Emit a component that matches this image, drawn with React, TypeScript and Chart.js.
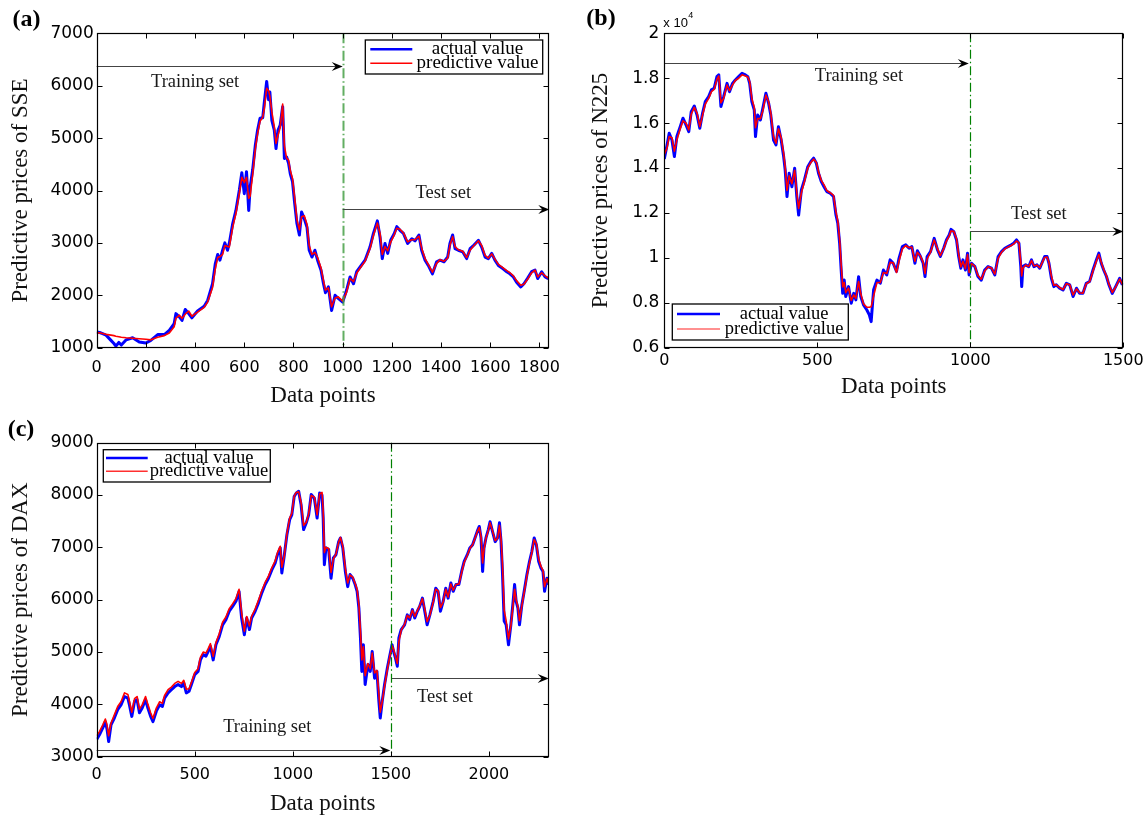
import React, { useEffect, useRef } from "react";
import { Chart, registerables } from "chart.js";

Chart.register(...registerables);

const SERIF = '"Liberation Serif", "Times New Roman", serif';
const SANS = '"DejaVu Sans", "Liberation Sans", sans-serif';

// ---------- (a) SSE ----------
const sseIndex = [0,12,24,38,58,70,78,90,100,120,146,173,200,220,248,275,295,315,322,336,347,360,374,387,410,437,451,471,482,492,501,512,521,532,539,553,566,580,590,600,609,618,624,634,645,654,664,675,681,691,699,704,712,722,729,737,746,756,763,772,780,787,796,805,814,824,833,844,855,864,875,887,898,912,922,930,942,955,969,982,1000,1016,1030,1044,1057,1071,1091,1111,1125,1141,1152,1161,1172,1183,1195,1209,1220,1233,1247,1264,1281,1294,1310,1321,1335,1348,1365,1382,1396,1412,1427,1436,1447,1457,1470,1488,1504,1518,1534,1552,1565,1579,1592,1606,1619,1633,1651,1667,1680,1694,1707,1724,1737,1751,1768,1782,1793,1809,1823,1836];
const sseActual = [1300,1290,1270,1240,1140,1080,1030,1100,1050,1150,1190,1110,1090,1140,1250,1250,1330,1460,1650,1590,1520,1730,1650,1570,1700,1790,1900,2220,2600,2780,2670,2860,3000,2860,2990,3370,3620,4010,4340,3940,4360,3620,4070,4390,4870,5150,5380,5390,5660,6080,5730,5880,5340,5150,4800,5150,5250,5600,4610,4640,4520,4320,4170,3750,3370,3150,3590,3460,3300,2860,2730,2860,2670,2480,2220,2050,2160,1710,2000,1940,1870,2100,2350,2220,2450,2540,2670,2920,3180,3420,3110,2700,2990,2800,3050,3170,3310,3240,3180,2990,3080,3040,3150,2860,2670,2570,2410,2640,2670,2640,2730,2990,3150,2890,2860,2830,2700,2890,2960,3050,2920,2730,2700,2800,2670,2570,2510,2450,2410,2350,2250,2160,2220,2320,2450,2480,2320,2450,2350,2320];
const ssePredicted = [1280,1285,1270,1255,1240,1230,1220,1210,1200,1190,1180,1170,1160,1150,1200,1230,1280,1400,1560,1620,1560,1640,1700,1600,1680,1770,1870,2150,2500,2720,2740,2780,2950,2930,2920,3300,3560,3950,4250,4150,4250,3850,3900,4300,4800,5080,5320,5400,5550,5950,5900,5800,5500,5220,4900,5050,5200,5650,4850,4620,4580,4380,4230,3850,3450,3250,3500,3520,3350,2950,2780,2820,2720,2520,2280,2100,2140,1780,1950,1970,1890,2060,2320,2260,2420,2520,2650,2890,3140,3380,3180,2780,2930,2850,3010,3150,3280,3260,3190,3020,3060,3060,3130,2900,2700,2590,2440,2610,2680,2650,2710,2950,3120,2930,2870,2840,2720,2860,2950,3040,2950,2760,2710,2790,2690,2590,2530,2470,2430,2370,2280,2190,2210,2300,2430,2480,2350,2430,2370,2330];
const sseXTicks = [0, 200, 400, 600, 800, 1000, 1200, 1400, 1600, 1800];
const sseYTicks = [1000, 2000, 3000, 4000, 5000, 6000, 7000];

// ---------- (b) N225 ----------
const n225Index = [0,9,16,25,33,41,52,61,71,80,88,98,107,116,125,134,145,154,163,172,178,185,194,205,213,223,232,243,254,265,273,279,286,294,298,305,314,322,332,341,348,357,365,373,382,390,395,401,408,417,426,433,439,448,458,469,479,488,497,504,513,522,531,542,553,561,567,573,578,583,588,593,602,611,619,626,635,642,651,662,670,676,684,695,706,716,727,738,748,759,767,778,789,800,809,819,827,837,846,852,859,870,882,893,902,913,922,931,937,946,955,962,969,976,984,991,996,1004,1015,1025,1036,1047,1058,1069,1080,1091,1102,1113,1123,1134,1142,1151,1159,1165,1168,1172,1181,1191,1200,1208,1218,1227,1236,1243,1251,1257,1265,1273,1281,1292,1303,1314,1325,1336,1347,1357,1368,1379,1390,1401,1412,1420,1428,1436,1445,1453,1464,1475,1488,1497];
const n225Actual = [14400,15030,15550,15250,14510,15400,15840,16220,15920,15620,16510,16760,16360,15770,16440,16960,17180,17480,17550,18070,18150,16740,17180,17770,17400,17770,17920,18070,18220,18150,18070,17770,16960,16590,15400,16360,16140,16660,17330,16880,16360,15250,15030,15840,15250,14510,13920,12730,13770,13170,13990,12730,11910,13030,13470,14060,14290,14440,14210,13770,13400,13170,12950,12880,12730,11910,11540,10650,9460,8420,9010,8280,8720,7980,8420,8130,9160,8280,7910,7680,7460,7160,8580,9010,8870,9460,9240,9910,9760,9400,9980,10500,10580,10430,10500,9760,10320,10060,9760,9170,10060,10280,10870,10350,10060,10430,10800,11020,11270,11170,10800,10060,9540,9910,9460,10210,9240,9760,9610,9170,9010,9460,9610,9540,9240,10060,10280,10430,10500,10580,10650,10800,10650,9610,8720,9610,9690,9610,9910,9610,9690,9540,9840,10060,10060,9760,9090,8720,8800,8650,8570,8870,8800,8280,8650,8420,8420,8870,8950,9460,9910,10210,9760,9460,9170,8800,8420,8720,9090,8800];
const n225Predicted = [14600,14900,15400,15350,14750,15250,15750,16100,16000,15700,16400,16700,16450,15850,16350,16850,17100,17400,17500,17950,18100,16900,17100,17700,17450,17700,17900,18000,18150,18100,18050,17850,17100,16700,15800,16200,16200,16550,17250,16950,16450,15400,15100,15750,15350,14650,14050,13000,13650,13300,13900,12900,12200,12900,13400,14000,14250,14400,14250,13850,13450,13250,13000,12900,12780,12050,11650,10800,9700,8700,8900,8450,8650,8100,8350,8200,8950,8400,7950,7800,7800,7820,8300,8900,8900,9350,9300,9800,9780,9350,9850,10400,10550,10450,10480,9850,10250,10080,9800,9300,9950,10250,10800,10400,10100,10400,10750,10980,11200,11180,10850,10150,9600,9850,9520,10150,9350,9750,9620,9220,9050,9420,9600,9550,9280,9980,10250,10400,10480,10550,10620,10750,10680,9800,9200,9550,9680,9620,9880,9640,9680,9560,9820,10020,10040,9800,9180,8780,8800,8680,8590,8850,8800,8350,8620,8450,8430,8850,8940,9420,9850,10150,9800,9480,9200,8830,8460,8700,9060,8820];
const n225XTicks = [0, 500, 1000, 1500];
const n225YTicks = [6000, 8000, 10000, 12000, 14000, 16000, 18000, 20000];

// ---------- (c) DAX ----------
const daxIndex = [0,14,31,44,53,61,73,90,107,124,142,159,167,179,193,206,218,232,249,261,275,287,304,321,335,346,364,381,398,415,432,444,457,471,483,500,517,529,543,557,568,580,594,608,625,642,659,676,693,710,726,739,753,765,779,790,808,825,842,859,876,893,910,922,936,944,956,970,984,995,1007,1018,1030,1042,1055,1069,1081,1094,1110,1124,1137,1149,1155,1161,1169,1183,1195,1207,1220,1234,1243,1255,1268,1280,1292,1306,1318,1328,1337,1345,1352,1360,1369,1383,1395,1405,1417,1429,1439,1446,1456,1468,1482,1494,1506,1514,1524,1533,1541,1553,1570,1584,1596,1610,1622,1635,1647,1661,1673,1685,1699,1716,1729,1741,1753,1767,1780,1792,1806,1818,1832,1847,1861,1874,1890,1903,1917,1929,1941,1951,1960,1968,1975,1985,1997,2006,2018,2032,2044,2054,2062,2069,2078,2088,2100,2112,2122,2131,2139,2148,2156,2168,2180,2194,2207,2219,2231,2242,2254,2266,2276,2284,2296,2305];
const daxActual = [3330,3420,3550,3670,3520,3290,3610,3740,3900,3990,4150,4120,3990,3770,4060,4090,3840,3930,4090,3930,3770,3670,3870,3990,3960,4120,4220,4280,4340,4380,4340,4410,4220,4250,4380,4570,4630,4850,4950,4920,5010,5110,4850,5140,5300,5520,5620,5780,5870,5970,6160,5650,5330,5650,5430,5650,5780,5940,6130,6290,6410,6570,6700,6860,6990,6510,6830,7240,7530,7620,7970,8040,8070,7820,7340,7470,7620,8010,7940,7560,8040,8000,7560,6670,6990,6960,6410,6800,6860,7110,7180,6990,6540,6250,6480,6410,6290,6160,5840,5270,4630,5140,4380,4760,4630,5010,4500,4630,4060,3740,4060,4380,4690,4920,5140,5010,4880,4730,5270,5430,5520,5710,5620,5810,5650,5780,5870,6030,5780,5520,5710,5970,6220,6160,5780,5970,6220,6030,6320,6160,6290,6290,6540,6730,6860,6990,7050,7180,7310,7400,7180,6540,6990,7180,7340,7490,7310,7110,7180,7470,7110,6540,5590,5520,5140,5520,5900,6290,5970,5840,5520,5900,6160,6480,6730,6920,7180,7050,6730,6600,6540,6160,6410,6290];
const daxPredicted = [3400,3480,3610,3720,3600,3400,3640,3800,3960,4050,4220,4190,4060,3850,4110,4150,3910,3990,4150,4000,3840,3730,3930,4050,4020,4170,4280,4330,4400,4440,4400,4460,4290,4300,4420,4610,4680,4900,5000,4980,5060,5160,4920,5180,5350,5570,5670,5830,5920,6020,6200,5750,5400,5680,5500,5680,5820,5990,6170,6330,6450,6610,6740,6900,7020,6620,6820,7260,7560,7650,7980,8050,8060,7870,7420,7480,7640,7990,7960,7620,8020,8050,7700,6900,7000,6980,6520,6780,6870,7100,7190,7020,6600,6320,6470,6430,6310,6200,5900,5400,4850,5100,4550,4780,4680,4980,4600,4650,4200,3850,4050,4350,4660,4900,5120,5050,4900,4780,5200,5420,5530,5700,5650,5800,5680,5790,5880,6020,5820,5580,5700,5950,6200,6170,5850,5960,6200,6050,6300,6180,6290,6300,6520,6710,6850,6980,7050,7170,7300,7380,7200,6700,6950,7170,7320,7470,7320,7130,7170,7420,7150,6700,5800,5600,5250,5500,5850,6200,6000,5870,5600,5880,6140,6450,6700,6900,7150,7070,6780,6630,6560,6250,6400,6300];
const daxXTicks = [0, 500, 1000, 1500, 2000];
const daxYTicks = [3000, 4000, 5000, 6000, 7000, 8000, 9000];

const legendLabels = ["actual value", "predictive value"];

type Arrow = { from: number; to: number; y: number };
type Note = { x: number; y: number; text: string };

interface PanelCfg {
  key: string;
  left: number; top: number; width: number; height: number;
  padding: { top: number; right: number; bottom: number; left: number };
  yAxisWidth: number; xAxisHeight: number;
  xMin: number; xMax: number; xTicks: number[];
  yMin: number; yMax: number; yTicks: number[];
  yFormat: (v: number) => string;
  xs: number[]; actual: number[]; predicted: number[];
  yTitle: string; yTitlePad: number; xTitlePad: number; xTickPad: number; yTickPad: number;
  label: string; labelX: number; labelY: number;
  split: number; splitColor: string; splitWidth: number; splitDash: number[];
  arrows: Arrow[]; notes: Note[]; noteFont: number;
  legend: { x: number; y: number; w: number; h: number; r1: number; r2: number; l1: number; l2: number; font: number; redColor: string };
  exponent: boolean;
}

const fmtPlain = (v: number) => String(v);
const fmtE4 = (v: number) => String(Math.round(v / 1000) / 10);

const panels: PanelCfg[] = [
  {
    key: "a", left: 0, top: 0, width: 574, height: 412,
    padding: { top: 33.3, right: 24.7, bottom: 0, left: 0 },
    yAxisWidth: 96.7, xAxisHeight: 64.3,
    xMin: 0, xMax: 1840, xTicks: sseXTicks, yMin: 1000, yMax: 7000, yTicks: sseYTicks, yFormat: fmtPlain,
    xs: sseIndex, actual: sseActual, predicted: ssePredicted,
    yTitle: "Predictive prices of SSE", yTitlePad: 7.5, xTitlePad: 2.7, xTickPad: 11, yTickPad: 3,
    label: "(a)", labelX: 26.5, labelY: 20,
    split: 1000, splitColor: "rgba(70,160,70,0.85)", splitWidth: 2, splitDash: [10, 3, 1.5, 3],
    arrows: [{ from: 0, to: 1000, y: 6380 }, { from: 1000, to: 1840, y: 3643 }],
    notes: [{ x: 400, y: 6075, text: "Training set" }, { x: 1409, y: 3943, text: "Test set" }],
    noteFont: 18.5,
    legend: { x: 268.6, y: 6.7, w: 177.4, h: 34, r1: 9.3, r2: 23.3, l1: 5, l2: 47, font: 19, redColor: "#ff0000" },
    exponent: false,
  },
  {
    key: "b", left: 574, top: 0, width: 574, height: 412,
    padding: { top: 33.3, right: 24.7, bottom: 0, left: 0 },
    yAxisWidth: 90.3, xAxisHeight: 64.3,
    xMin: 0, xMax: 1500, xTicks: n225XTicks, yMin: 6000, yMax: 20000, yTicks: n225YTicks, yFormat: fmtE4,
    xs: n225Index, actual: n225Actual, predicted: n225Predicted,
    yTitle: "Predictive prices of N225", yTitlePad: 12.7, xTitlePad: 10.8, xTickPad: 4, yTickPad: 5,
    label: "(b)", labelX: 27, labelY: 19,
    split: 1000, splitColor: "#008000", splitWidth: 1.2, splitDash: [9, 3, 1.5, 3],
    arrows: [{ from: 0, to: 995, y: 18664 }, { from: 1000, to: 1500, y: 11196 }],
    notes: [{ x: 636, y: 18100, text: "Training set" }, { x: 1224, y: 11940, text: "Test set" }],
    noteFont: 18.5,
    legend: { x: 8, y: 270.7, w: 176, h: 36, r1: 10, r2: 25, l1: 4.7, l2: 47.7, font: 18.5, redColor: "#ff6b6b" },
    exponent: true,
  },
  {
    key: "c", left: 0, top: 410, width: 574, height: 408,
    padding: { top: 32.7, right: 25.3, bottom: 0, left: 0 },
    yAxisWidth: 96.7, xAxisHeight: 61.3,
    xMin: 0, xMax: 2305, xTicks: daxXTicks, yMin: 3000, yMax: 9000, yTicks: daxYTicks, yFormat: fmtPlain,
    xs: daxIndex, actual: daxActual, predicted: daxPredicted,
    yTitle: "Predictive prices of DAX", yTitlePad: 7.2, xTitlePad: 0.1, xTickPad: 8.5, yTickPad: 3,
    label: "(c)", labelX: 21, labelY: 20,
    split: 1500, splitColor: "#008000", splitWidth: 1.2, splitDash: [9, 3, 1.5, 3],
    arrows: [{ from: 0, to: 1497, y: 3133 }, { from: 1505, to: 2305, y: 4503 }],
    notes: [{ x: 870, y: 3561, text: "Training set" }, { x: 1776, y: 4135, text: "Test set" }],
    noteFont: 18.5,
    legend: { x: 6.6, y: 7, w: 167, h: 32.3, r1: 8.3, r2: 21.6, l1: 2.7, l2: 44.4, font: 18.5, redColor: "#ff3030" },
    exponent: false,
  },
];

function makeOverlay(cfg: PanelCfg) {
  return {
    id: "overlay_" + cfg.key,
    afterDraw(chart: any) {
      const { ctx, chartArea: ca, scales } = chart;
      const sx = scales.x;
      const sy = scales.y;
      ctx.save();

      // train/test split line
      const xSplit = Math.round(sx.getPixelForValue(cfg.split)) + 0.5;
      ctx.strokeStyle = cfg.splitColor;
      ctx.lineWidth = cfg.splitWidth;
      ctx.setLineDash(cfg.splitDash);
      ctx.beginPath();
      ctx.moveTo(xSplit, ca.top);
      ctx.lineTo(xSplit, ca.bottom);
      ctx.stroke();
      ctx.setLineDash([]);

      // arrows
      for (const a of cfg.arrows) {
        const x1 = sx.getPixelForValue(a.from);
        const x2 = Math.min(sx.getPixelForValue(a.to), ca.right);
        const y = Math.round(sy.getPixelForValue(a.y)) + 0.5;
        ctx.strokeStyle = "#444";
        ctx.lineWidth = 1.1;
        ctx.beginPath();
        ctx.moveTo(x1, y);
        ctx.lineTo(x2 - 6, y);
        ctx.stroke();
        ctx.fillStyle = "#000";
        ctx.beginPath();
        ctx.moveTo(x2, y);
        ctx.lineTo(x2 - 11, y - 4.5);
        ctx.lineTo(x2 - 7, y);
        ctx.lineTo(x2 - 11, y + 4.5);
        ctx.closePath();
        ctx.fill();
      }

      // notes
      ctx.font = `${cfg.noteFont}px ${SERIF}`;
      ctx.fillStyle = "#1a1a1a";
      ctx.textAlign = "center";
      ctx.textBaseline = "middle";
      for (const n of cfg.notes) {
        ctx.fillText(n.text, sx.getPixelForValue(n.x), sy.getPixelForValue(n.y));
      }

      // frame and inward ticks
      const L = Math.round(ca.left) + 0.5;
      const R = Math.round(ca.right) - 0.5;
      const T = Math.round(ca.top) + 0.5;
      const B = Math.round(ca.bottom) - 0.5;
      ctx.strokeStyle = "#000";
      ctx.lineWidth = 1.2;
      ctx.strokeRect(L, T, R - L, B - T);
      ctx.lineWidth = 1;
      ctx.beginPath();
      for (const t of sx.ticks) {
        const px = Math.round(sx.getPixelForValue(t.value)) + 0.5;
        ctx.moveTo(px, B); ctx.lineTo(px, B - 5);
        ctx.moveTo(px, T); ctx.lineTo(px, T + 5);
      }
      for (const t of sy.ticks) {
        const py = Math.round(sy.getPixelForValue(t.value)) + 0.5;
        ctx.moveTo(L, py); ctx.lineTo(L + 5, py);
        ctx.moveTo(R, py); ctx.lineTo(R - 5, py);
      }
      ctx.stroke();

      // legend
      const lg = cfg.legend;
      const bx = ca.left + lg.x;
      const by = ca.top + lg.y;
      ctx.fillStyle = "#fff";
      ctx.fillRect(bx, by, lg.w, lg.h);
      ctx.strokeStyle = "#000";
      ctx.lineWidth = 1.3;
      ctx.strokeRect(bx, by, lg.w, lg.h);
      ctx.lineWidth = 2.4;
      ctx.strokeStyle = "#0000ff";
      ctx.beginPath();
      ctx.moveTo(bx + lg.l1, by + lg.r1);
      ctx.lineTo(bx + lg.l2, by + lg.r1);
      ctx.stroke();
      ctx.lineWidth = 1.6;
      ctx.strokeStyle = lg.redColor;
      ctx.beginPath();
      ctx.moveTo(bx + lg.l1, by + lg.r2);
      ctx.lineTo(bx + lg.l2, by + lg.r2);
      ctx.stroke();
      ctx.font = `${lg.font}px ${SERIF}`;
      ctx.fillStyle = "#000";
      ctx.textAlign = "center";
      ctx.textBaseline = "middle";
      const tcx = bx + lg.l2 + (lg.w - lg.l2) / 2;
      ctx.fillText(legendLabels[0], tcx, by + lg.r1);
      ctx.fillText(legendLabels[1], tcx, by + lg.r2);

      // panel label
      ctx.font = `bold 24px ${SERIF}`;
      ctx.fillStyle = "#000";
      ctx.fillText(cfg.label, cfg.labelX, cfg.labelY);

      // exponent
      if (cfg.exponent) {
        ctx.textAlign = "left";
        ctx.font = `13px "Liberation Sans", sans-serif`;
        ctx.fillText("x 10", ca.left - 1, 23);
        const w = ctx.measureText("x 10").width;
        ctx.font = `9px "Liberation Sans", sans-serif`;
        ctx.fillText("4", ca.left - 1 + w + 0.5, 16);
      }

      ctx.restore();
    },
  };
}

function Panel({ cfg }: { cfg: PanelCfg }) {
  const ref = useRef<HTMLCanvasElement>(null);
  useEffect(() => {
    if (!ref.current) return;
    const pts = (ys: number[]) => cfg.xs.map((x, i) => ({ x, y: ys[i] }));
    const chart = new Chart(ref.current, {
      type: "line",
      data: {
        datasets: [
          {
            label: legendLabels[0],
            data: pts(cfg.actual),
            borderColor: "#0000ff",
            borderWidth: 3,
            pointRadius: 0,
            tension: 0,
            order: 2,
            borderJoinStyle: "round",
          },
          {
            label: legendLabels[1],
            data: pts(cfg.predicted),
            borderColor: "#ff0000",
            borderWidth: 1.6,
            pointRadius: 0,
            tension: 0,
            order: 1,
            borderJoinStyle: "round",
          },
        ],
      },
      options: {
        animation: false,
        responsive: false,
        devicePixelRatio: 1,
        events: [],
        layout: { padding: cfg.padding },
        plugins: { legend: { display: false }, tooltip: { enabled: false } },
        scales: {
          x: {
            type: "linear",
            min: cfg.xMin,
            max: cfg.xMax,
            grid: { display: false, drawTicks: false, tickLength: 0 },
            border: { display: false },
            afterBuildTicks: (s: any) => { s.ticks = cfg.xTicks.map((v) => ({ value: v })); },
            ticks: {
              autoSkip: false,
              maxRotation: 0,
              padding: cfg.xTickPad,
              color: "#000",
              font: { family: SANS, size: 16 },
              callback: (v: any) => String(v),
            },
            title: {
              display: true,
              text: "Data points",
              color: "#111",
              font: { family: SERIF, size: 23 },
              padding: { top: 0, bottom: cfg.xTitlePad },
            },
            afterFit: (s: any) => { s.height = cfg.xAxisHeight; },
          },
          y: {
            type: "linear",
            min: cfg.yMin,
            max: cfg.yMax,
            grid: { display: false, drawTicks: false, tickLength: 0 },
            border: { display: false },
            afterBuildTicks: (s: any) => { s.ticks = cfg.yTicks.map((v) => ({ value: v })); },
            ticks: {
              autoSkip: false,
              padding: cfg.yTickPad,
              color: "#000",
              font: { family: SANS, size: 17 },
              callback: (v: any) => cfg.yFormat(Number(v)),
            },
            title: {
              display: true,
              text: cfg.yTitle,
              color: "#111",
              font: { family: SERIF, size: 23 },
              padding: { top: cfg.yTitlePad, bottom: 0 },
            },
            afterFit: (s: any) => { s.width = cfg.yAxisWidth; },
          },
        },
      } as any,
      plugins: [makeOverlay(cfg)],
    });
    return () => chart.destroy();
  }, []);
  return (
    <canvas
      ref={ref}
      width={cfg.width}
      height={cfg.height}
      style={{ position: "absolute", left: cfg.left, top: cfg.top, width: cfg.width, height: cfg.height }}
    />
  );
}

export default function App() {
  return (
    <div style={{ position: "absolute", left: 0, top: 0, width: 1148, height: 818, background: "#fff" }}>
      {panels.map((p) => (
        <Panel key={p.key} cfg={p} />
      ))}
    </div>
  );
}
